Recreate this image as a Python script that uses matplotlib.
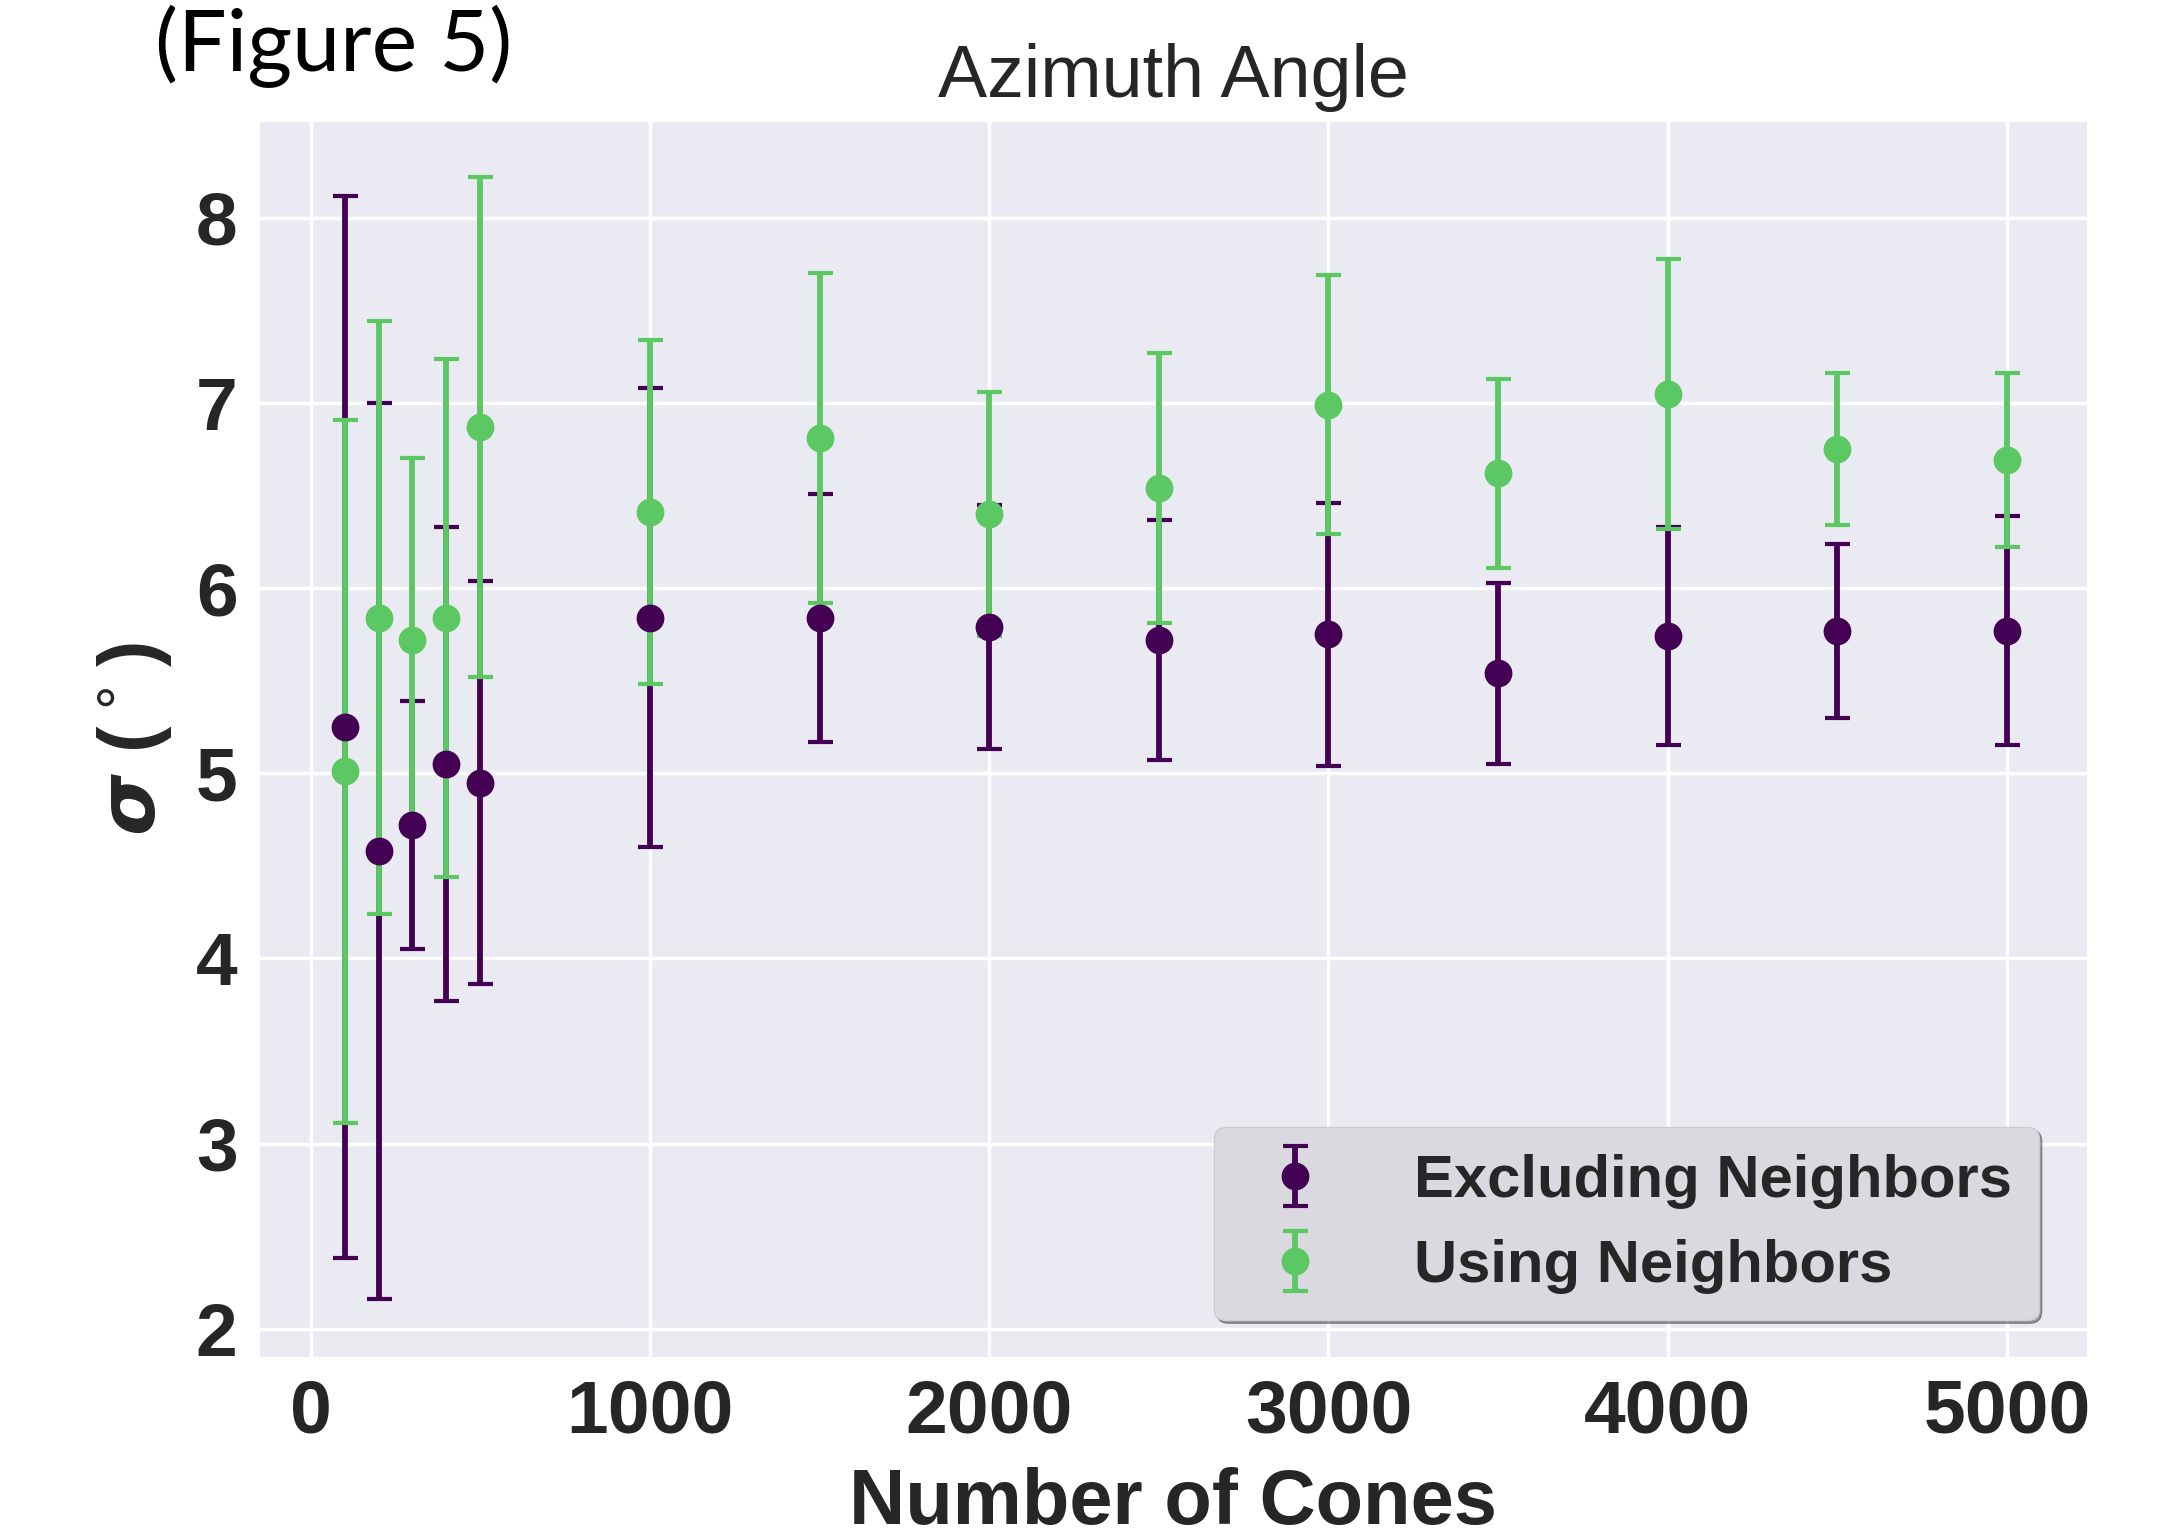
import matplotlib
matplotlib.use("Agg")
import matplotlib.pyplot as plt

# number of cones
cones = [100, 200, 300, 400, 500, 1000, 1500, 2000, 2500, 3000, 3500, 4000, 4500, 5000]

# excluding neighbors
excl_mean = [5.25, 4.58, 4.72, 5.05, 4.95, 5.84, 5.84, 5.79, 5.72, 5.75, 5.54, 5.74, 5.77, 5.77]
excl_err = [2.87, 2.42, 0.67, 1.28, 1.09, 1.24, 0.67, 0.66, 0.65, 0.71, 0.49, 0.59, 0.47, 0.62]

# using neighbors
using_mean = [5.01, 5.84, 5.72, 5.84, 6.87, 6.41, 6.81, 6.40, 6.54, 6.99, 6.62, 7.05, 6.75, 6.69]
using_err = [1.90, 1.60, 0.98, 1.40, 1.35, 0.93, 0.89, 0.66, 0.73, 0.70, 0.51, 0.73, 0.41, 0.47]

plt.style.use('seaborn-v0_8-darkgrid')

fig = plt.figure(figsize=(21.65, 15.38), dpi=100)
ax = fig.add_axes([0.120, 0.118, 0.844, 0.803])

ax.errorbar(cones, excl_mean, yerr=excl_err, fmt='o', color='#440154',
            ms=19, elinewidth=4.2, capsize=9, capthick=3, label='Excluding Neighbors')
ax.errorbar(cones, using_mean, yerr=using_err, fmt='o', color='#5cc863',
            ms=19, elinewidth=4.2, capsize=9, capthick=3, label='Using Neighbors')

ax.set_xlim(-150, 5236)
ax.set_ylim(1.85, 8.52)
ax.set_xticks([0, 1000, 2000, 3000, 4000, 5000])
ax.set_yticks([2, 3, 4, 5, 6, 7, 8])
ax.grid(True, color='white', linewidth=2.5)

for lab in ax.get_xticklabels() + ax.get_yticklabels():
    lab.set_fontsize(54)
    lab.set_fontweight('bold')
    lab.set_color('#262626')
ax.tick_params(axis='both', length=0, pad=16)

ax.set_title('Azimuth Angle', fontsize=53, color='#262626', pad=18)
ax.set_xlabel('Number of Cones', fontsize=56, fontweight='bold', color='#262626', labelpad=14)
ax.set_ylabel(r'$\boldsymbol{\sigma}$ ($^\circ$)', fontsize=57, fontweight='bold', color='#262626', labelpad=16)

leg = ax.legend(loc='lower right', prop={'weight': 'bold', 'size': 43},
                frameon=True, shadow=True, fancybox=True, borderpad=0.45,
                handlelength=1.8, handletextpad=1.1, bbox_to_anchor=(0.99, 0.005))
leg.get_frame().set_facecolor('#d9d9df')
leg.get_frame().set_edgecolor('#cccccc')
for t in leg.get_texts():
    t.set_color('#262626')

fig.text(0.0714, 0.997, '(Figure 5)', fontsize=62, family='Lato', color='black', va='top')

fig.savefig('out.png', dpi=100)
